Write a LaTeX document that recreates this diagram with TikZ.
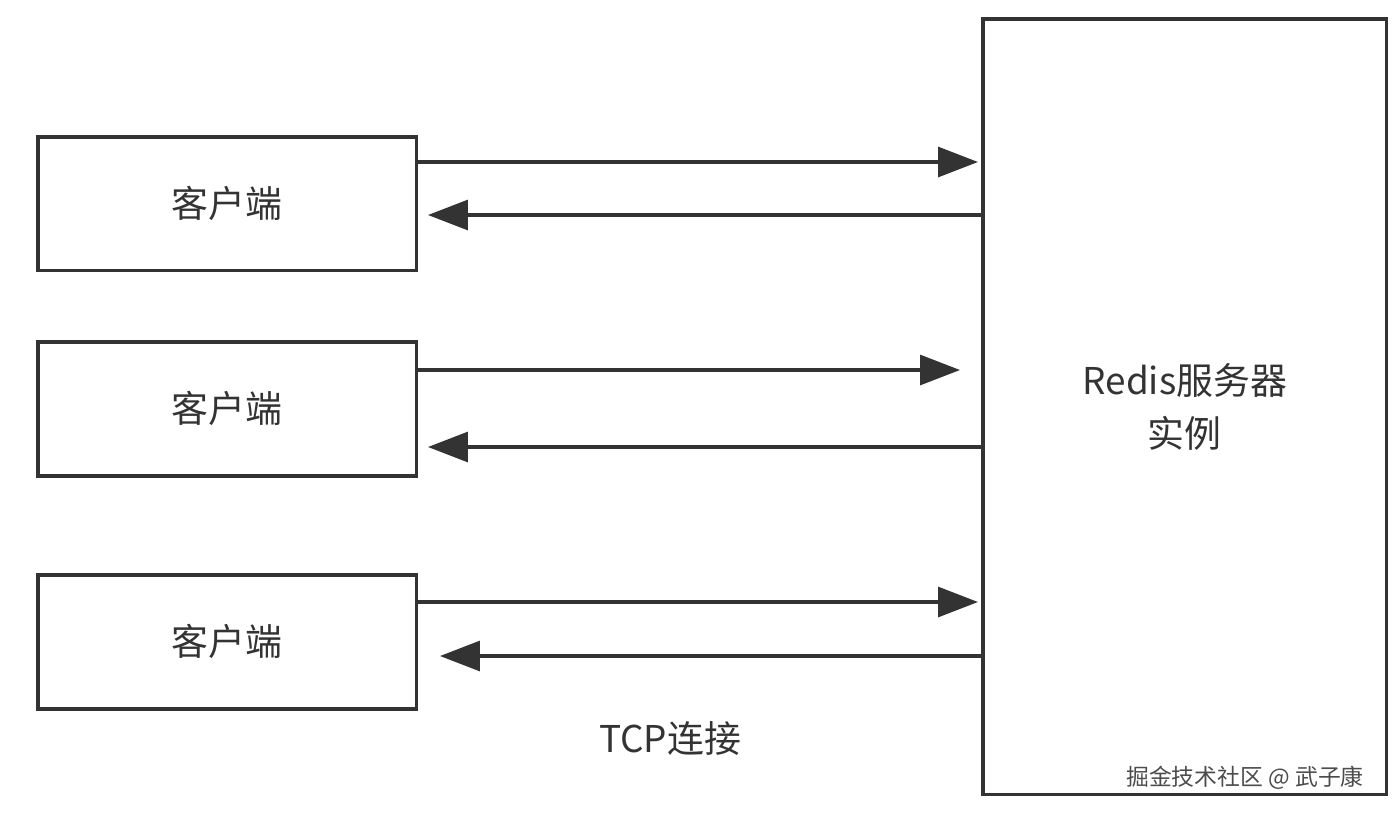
\documentclass[tikz,border=0pt]{standalone}
\usepackage{fontspec}
\setmainfont{Noto Sans CJK SC}
\usetikzlibrary{arrows.meta}
\usetikzlibrary{positioning}

\begin{document}
\begin{tikzpicture}[
    x=0.02cm, y=-0.02cm,
    font=\fontsize{21}{26}\selectfont
]
\tikzset{
    client/.style = {draw=black!80, line width=2pt, minimum width=7.58cm, minimum height=2.68cm, anchor=north west},
    server/.style = {draw=black!80, line width=2pt, minimum width=8.08cm, minimum height=15.52cm, anchor=north west, align=center},
    conn/.style = {-{Triangle[length=0.8cm,width=0.6cm]}, line width=1.8pt, black!80}
}
\useasboundingbox (0,0) rectangle (1396,816);
\node[client, text=black!80] at (36,135) (c1) {客户端};
\node[client, text=black!80] at (36,340) (c2) {客户端};
\node[client, text=black!80] at (36,573) (c3) {客户端};
\node[server, text=black!80, text width=5cm] at (981,17) (srv) {Redis服务器\\[4pt]实例};
% end points of the connections
\coordinate (s1) at (978,162); \coordinate (r1) at (428,215);
\coordinate (s2) at (960,370); \coordinate (r2) at (428,447);
\coordinate (s3) at (978,602); \coordinate (r3) at (440,656);
\draw[conn] (c1.east |- s1) -- (s1);
\draw[conn] (srv.west |- r1) -- (r1);
\draw[conn] (c2.east |- s2) -- (s2);
\draw[conn] (srv.west |- r2) -- (r2);
\draw[conn] (c3.east |- s3) -- (s3);
\draw[conn] (srv.west |- r3) -- (r3);
\node[text=black!80] at (670,738) (tcp) {TCP连接};
\node[font=\fontsize{13}{15}\selectfont, black!70] at (1245,778) (mark) {掘金技术社区 @ 武子康};
\end{tikzpicture}
\end{document}
